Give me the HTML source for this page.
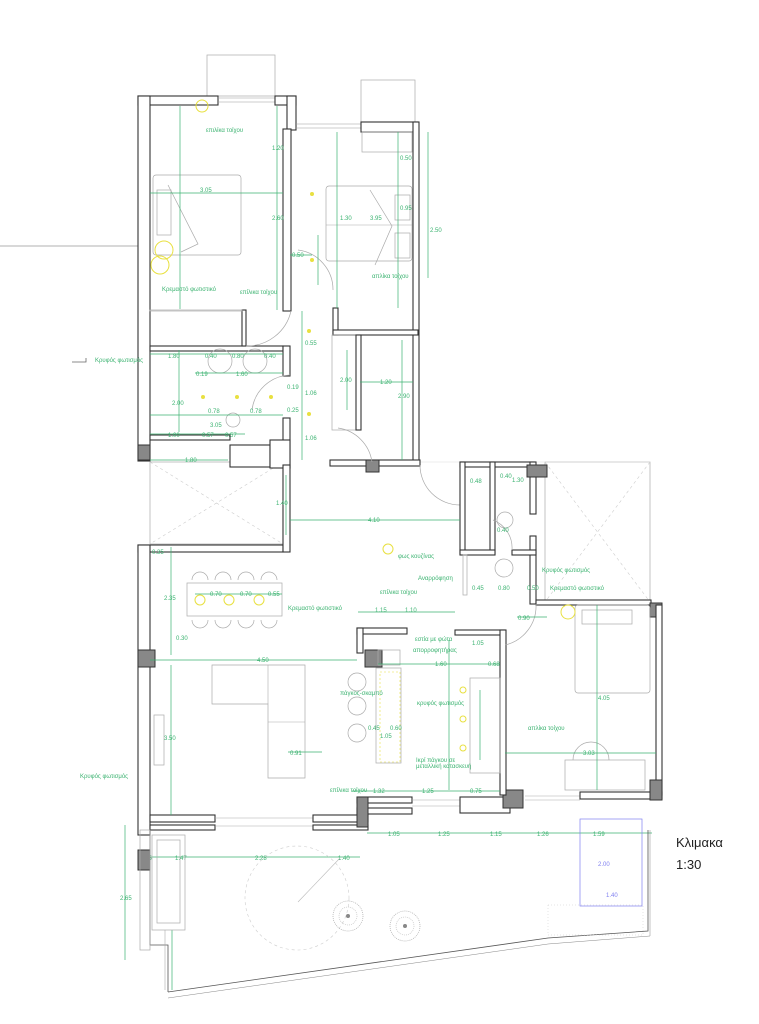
<!DOCTYPE html>
<html><head><meta charset="utf-8"><style>
html,body{margin:0;padding:0;background:#fff;}
svg{display:block;}
text{font-family:"Liberation Sans",sans-serif;}
.w{fill:#fff;stroke:#333;stroke-width:1.1}
.c{fill:#888;stroke:#333;stroke-width:1}
.t{fill:none;stroke:#aaa;stroke-width:0.7}
.g{fill:none;stroke:#3cb371;stroke-width:0.7}
.gt{fill:#3cb371;font-size:6px}
.y{fill:none;stroke:#e8e040;stroke-width:1}
.d{fill:none;stroke:#ccc;stroke-width:0.6;stroke-dasharray:3 3}
</style></head><body>
<svg width="759" height="1024" viewBox="0 0 759 1024" xmlns="http://www.w3.org/2000/svg">
<!-- outside thin lines -->
<line x1="0" y1="246" x2="138" y2="246" stroke="#999" stroke-width="0.8"/>
<polyline points="72,362 86,362 86,358" fill="none" stroke="#666" stroke-width="0.8"/>
<rect x="207" y="55" width="68" height="41" class="t"/>
<rect x="361" y="80" width="54" height="42" class="t"/>
<!-- terraces -->
<rect x="150" y="462" width="133" height="82" class="t"/>
<line x1="150" y1="462" x2="283" y2="544" class="d"/><line x1="283" y1="462" x2="150" y2="544" class="d"/>
<rect x="545" y="462" width="105" height="140" class="t"/>
<line x1="545" y1="462" x2="650" y2="602" class="d"/><line x1="650" y1="462" x2="545" y2="602" class="d"/>
<line x1="420" y1="462" x2="650" y2="462" stroke="#ddd" stroke-width="0.6"/>

<!-- ===== upper walls ===== -->
<rect x="138" y="96" width="80" height="9" class="w"/>
<line x1="218" y1="98" x2="275" y2="98" stroke="#999" stroke-width="0.6"/><line x1="218" y1="102" x2="275" y2="102" stroke="#999" stroke-width="0.6"/>
<rect x="138" y="96" width="12" height="365" class="w"/>
<rect x="275" y="96" width="21" height="9" class="w"/>
<rect x="287" y="96" width="9" height="34" class="w"/>
<rect x="283" y="129" width="8" height="182" class="w"/>
<line x1="296" y1="124" x2="361" y2="124" stroke="#999" stroke-width="0.6"/><line x1="296" y1="128" x2="361" y2="128" stroke="#999" stroke-width="0.6"/>
<rect x="361" y="122" width="57" height="10" class="w"/>
<rect x="413" y="122" width="6" height="343" class="w"/>
<rect x="333" y="308" width="5" height="27" class="w"/>
<rect x="333" y="330" width="85" height="5" class="w"/>
<rect x="332" y="335" width="28" height="95" class="t"/>
<rect x="356" y="335" width="5" height="95" class="w"/>
<rect x="150" y="346" width="133" height="5" class="w"/>
<rect x="242" y="310" width="4" height="36" class="w"/>
<rect x="150" y="310" width="92" height="1" class="t"/>
<rect x="283" y="346" width="7" height="30" class="w"/>
<rect x="283" y="418" width="7" height="50" class="w"/>
<rect x="150" y="435" width="80" height="5" class="w"/>
<rect x="230" y="445" width="40" height="22" class="w"/>
<rect x="270" y="440" width="20" height="28" class="w"/>
<rect x="330" y="460" width="90" height="6" class="w"/>
<rect x="138" y="445" width="12" height="15" class="c"/>
<rect x="366" y="460" width="13" height="12" class="c"/>
<!-- doors upper -->
<path d="M291,311 A45,45 0 0 1 246,346" class="t"/>
<path d="M298,250 A40,40 0 0 1 333,290" class="t"/>
<path d="M290,375 A40,40 0 0 0 252,410" class="t"/>
<path d="M338,428 A40,40 0 0 1 372,462" class="t"/>
<path d="M420,465 A40,40 0 0 0 460,505" class="t"/>
<!-- beds upper -->
<rect x="153" y="175" width="88" height="80" rx="3" class="t"/>
<rect x="157" y="190" width="14" height="45" class="t"/>
<polyline points="168,185 198,244 181,252" class="t"/>
<rect x="326" y="186" width="86" height="75" rx="3" class="t"/>
<line x1="326" y1="225" x2="412" y2="225" stroke="#aaa" stroke-width="0.6"/>
<rect x="395" y="195" width="15" height="25" class="t"/><rect x="395" y="233" width="15" height="25" class="t"/>
<polyline points="370,190 392,226 375,265" class="t"/>
<rect x="362" y="132" width="50" height="20" class="t"/>
<circle cx="164" cy="250" r="9" class="y"/><circle cx="160" cy="265" r="9" class="y"/>
<circle cx="202" cy="106" r="6" class="y"/>
<circle cx="220" cy="361" r="12" class="t"/><circle cx="255" cy="361" r="12" class="t"/>
<circle cx="233" cy="420" r="7" class="t"/>
<!-- upper dims -->
<g class="g">
<line x1="180" y1="106" x2="180" y2="309"/><line x1="150" y1="193" x2="283" y2="193"/>
<line x1="277" y1="106" x2="277" y2="310"/>
<line x1="337" y1="132" x2="337" y2="308"/><line x1="398" y1="132" x2="398" y2="308"/>
<line x1="428" y1="132" x2="428" y2="278"/>
<line x1="318" y1="235" x2="318" y2="285"/><line x1="290" y1="255" x2="312" y2="255"/>
<line x1="302" y1="311" x2="302" y2="372"/><line x1="302" y1="372" x2="302" y2="460"/>
<line x1="150" y1="354" x2="283" y2="354"/><line x1="195" y1="373" x2="283" y2="373"/>
<line x1="179" y1="350" x2="179" y2="432"/><line x1="150" y1="415" x2="283" y2="415"/>
<line x1="150" y1="434" x2="245" y2="434"/><line x1="150" y1="460" x2="228" y2="460"/>
<line x1="347" y1="350" x2="347" y2="410"/><line x1="360" y1="382" x2="413" y2="382"/>
<line x1="402" y1="340" x2="402" y2="460"/>
</g>
<g class="gt">
<text x="200" y="193" dy="-1">3.05</text><text x="206" y="132">επιλίκα τοίχου</text>
<text x="272" y="150">1.20</text><text x="272" y="220">2.60</text>
<text x="340" y="220">1.30</text><text x="370" y="220">3.95</text><text x="400" y="160">0.50</text><text x="400" y="210">0.95</text><text x="430" y="232">2.50</text>
<text x="292" y="257">0.50</text><text x="305" y="345">0.55</text>
<text x="162" y="291">Κρεμαστό φωτιστικό</text><text x="240" y="294">επίλικα τοίχου</text><text x="372" y="278">απλίκα τοίχου</text>
<text x="168" y="358">1.80</text><text x="205" y="358">0.40</text><text x="232" y="358">0.80</text><text x="264" y="358">0.40</text>
<text x="236" y="376">1.60</text><text x="196" y="376">0.19</text><text x="287" y="389">0.19</text><text x="287" y="412">0.25</text>
<text x="172" y="405">2.00</text><text x="208" y="413">0.78</text><text x="250" y="413">0.78</text><text x="210" y="427">3.05</text>
<text x="168" y="437">1.00</text><text x="202" y="437">0.57</text><text x="225" y="437">0.57</text>
<text x="185" y="462">1.80</text><text x="380" y="384">1.20</text><text x="340" y="382">2.00</text><text x="398" y="398">2.90</text>
<text x="305" y="395">1.06</text><text x="305" y="440">1.06</text>
<text x="95" y="362">Κρυφός φωτισμός</text>
</g>
<g fill="#e8e040"><circle cx="312" cy="194" r="2"/><circle cx="312" cy="260" r="2"/><circle cx="309" cy="331" r="2"/><circle cx="309" cy="414" r="2"/><circle cx="203" cy="397" r="2"/><circle cx="237" cy="397" r="2"/><circle cx="271" cy="397" r="2"/></g>

<!-- ===== middle / living ===== -->
<rect x="138" y="545" width="145" height="7" class="w"/>
<rect x="283" y="465" width="7" height="87" class="w"/>
<rect x="138" y="545" width="12" height="290" class="w"/>
<rect x="138" y="650" width="17" height="17" class="c"/>
<rect x="150" y="815" width="65" height="7" class="w"/><rect x="150" y="825" width="65" height="5" class="w"/>
<line x1="215" y1="818" x2="315" y2="818" stroke="#aaa" stroke-width="0.6"/><line x1="215" y1="826" x2="315" y2="826" stroke="#aaa" stroke-width="0.6"/>
<rect x="313" y="815" width="55" height="7" class="w"/><rect x="313" y="825" width="55" height="5" class="w"/>
<rect x="357" y="628" width="50" height="6" class="w"/><rect x="357" y="628" width="6" height="25" class="w"/>
<rect x="365" y="650" width="17" height="17" class="c"/>
<rect x="357" y="797" width="55" height="6" class="w"/><rect x="357" y="808" width="55" height="6" class="w"/>
<rect x="357" y="797" width="11" height="30" class="c"/>
<line x1="412" y1="800" x2="460" y2="800" stroke="#aaa" stroke-width="0.6"/><line x1="412" y1="806" x2="460" y2="806" stroke="#aaa" stroke-width="0.6"/>
<rect x="460" y="797" width="50" height="16" class="w"/>
<rect x="503" y="790" width="20" height="18" class="c"/>
<line x1="525" y1="796" x2="580" y2="796" stroke="#aaa" stroke-width="0.6"/><line x1="525" y1="800" x2="580" y2="800" stroke="#aaa" stroke-width="0.6"/>
<rect x="580" y="792" width="82" height="7" class="w"/>
<!-- right wet block -->
<rect x="460" y="462" width="75" height="5" class="w"/>
<rect x="460" y="462" width="5" height="92" class="w"/>
<rect x="490" y="462" width="5" height="92" class="w"/>
<rect x="530" y="462" width="6" height="52" class="w"/>
<rect x="530" y="536" width="6" height="68" class="w"/>
<rect x="460" y="550" width="35" height="5" class="w"/>
<rect x="512" y="550" width="24" height="5" class="w"/>
<rect x="527" y="465" width="20" height="12" class="c"/>
<rect x="463" y="555" width="4" height="40" class="t"/>
<rect x="455" y="630" width="50" height="5" class="w"/>
<rect x="500" y="630" width="6" height="165" class="w"/>
<rect x="536" y="600" width="115" height="5" class="w"/>
<rect x="650" y="603" width="12" height="14" class="c"/>
<rect x="656" y="605" width="6" height="190" class="w"/>
<rect x="650" y="780" width="12" height="20" class="c"/>
<path d="M536,604 A40,40 0 0 1 505,645" class="t"/>
<path d="M493,520 A30,30 0 0 1 512,550" class="t"/>
<circle cx="505" cy="520" r="8" class="t"/><circle cx="504" cy="568" r="9" class="t"/>
<!-- furniture -->
<rect x="187" y="583" width="95" height="33" class="t"/>
<g class="t"><path d="M192,580 a8,8 0 0 1 16,0"/><path d="M215,580 a8,8 0 0 1 16,0"/><path d="M238,580 a8,8 0 0 1 16,0"/><path d="M261,580 a8,8 0 0 1 16,0"/>
<path d="M192,620 a8,8 0 0 0 16,0"/><path d="M215,620 a8,8 0 0 0 16,0"/><path d="M238,620 a8,8 0 0 0 16,0"/><path d="M261,620 a8,8 0 0 0 16,0"/></g>
<path d="M212,665 H305 V778 H268 V704 H212 Z" class="t"/>
<line x1="268" y1="665" x2="268" y2="704" stroke="#aaa" stroke-width="0.6"/>
<line x1="268" y1="722" x2="305" y2="722" stroke="#aaa" stroke-width="0.6"/>
<rect x="154" y="715" width="10" height="50" class="t"/>
<rect x="376" y="668" width="25" height="95" class="t"/>
<rect x="380" y="672" width="20" height="90" fill="none" stroke="#e8e040" stroke-width="0.6" stroke-dasharray="2 2"/>
<rect x="378" y="650" width="22" height="15" class="t"/>
<circle cx="357" cy="682" r="9" class="t"/><circle cx="357" cy="706" r="9" class="t"/><circle cx="357" cy="733" r="9" class="t"/>
<rect x="470" y="678" width="30" height="95" class="t"/>
<rect x="575" y="605" width="75" height="88" rx="3" class="t"/>
<rect x="582" y="610" width="50" height="14" class="t"/>
<rect x="565" y="760" width="80" height="30" class="t"/>
<path d="M573,760 a18,18 0 0 1 36,0" class="t"/>
<!-- yellow lights -->
<g class="y"><circle cx="388" cy="549" r="5"/><circle cx="200" cy="600" r="5"/><circle cx="229" cy="600" r="5"/><circle cx="259" cy="600" r="5"/>
<circle cx="568" cy="612" r="7"/><circle cx="463" cy="690" r="3"/><circle cx="463" cy="719" r="3"/><circle cx="463" cy="748" r="3"/></g>
<!-- living dims -->
<g class="g">
<line x1="290" y1="520" x2="460" y2="520"/><line x1="286" y1="475" x2="286" y2="535"/>
<line x1="150" y1="660" x2="357" y2="660"/><line x1="171" y1="547" x2="171" y2="655"/><line x1="171" y1="665" x2="171" y2="815"/>
<line x1="195" y1="594" x2="282" y2="594"/>
<line x1="358" y1="612" x2="455" y2="612"/><line x1="378" y1="664" x2="500" y2="664"/>
<line x1="288" y1="752" x2="322" y2="752"/>
<line x1="352" y1="791" x2="500" y2="791"/><line x1="367" y1="833" x2="652" y2="833"/>
<line x1="150" y1="857" x2="360" y2="857"/>
<line x1="480" y1="690" x2="480" y2="760"/><line x1="597" y1="605" x2="597" y2="790"/>
<line x1="505" y1="753" x2="656" y2="753"/><line x1="517" y1="617" x2="547" y2="617"/>
<line x1="449" y1="640" x2="449" y2="790"/>
<line x1="125" y1="825" x2="125" y2="960"/><line x1="172" y1="930" x2="172" y2="990"/>
</g>
<g class="gt">
<text x="368" y="522">4.10</text><text x="276" y="505">1.40</text><text x="152" y="554">0.35</text>
<text x="257" y="662">4.50</text><text x="164" y="600">2.35</text><text x="164" y="740">3.50</text><text x="176" y="640">0.30</text>
<text x="210" y="596">0.70</text><text x="240" y="596">0.70</text><text x="268" y="596">0.55</text>
<text x="288" y="610">Κρεμαστό φωτιστικό</text><text x="398" y="558">φως κουζίνας</text>
<text x="375" y="612">1.15</text><text x="405" y="612">1.10</text><text x="435" y="666">1.60</text>
<text x="380" y="594">επίλικα τοίχου</text><text x="418" y="580">Αναρρόφηση</text>
<text x="415" y="641">εστία με φώτα</text><text x="413" y="652">απορροφητήρας</text>
<text x="340" y="695">πάγκος-σκαμπό</text><text x="417" y="705">κρυφός φωτισμός</text>
<text x="368" y="730">0.45</text><text x="390" y="730">0.60</text><text x="380" y="738">1.05</text>
<text x="416" y="762">Ικρί πάγκου σε</text><text x="416" y="768">μεταλλική κατασκευή</text>
<text x="290" y="755">0.91</text><text x="330" y="792">επίλικα τοίχου</text><text x="80" y="778">Κρυφός φωτισμός</text>
<text x="373" y="793">1.32</text><text x="422" y="793">1.25</text><text x="470" y="793">0.75</text>
<text x="388" y="836">1.05</text><text x="438" y="836">1.25</text><text x="490" y="836">1.15</text><text x="537" y="836">1.26</text><text x="593" y="836">1.59</text>
<text x="175" y="860">1.47</text><text x="255" y="860">2.28</text><text x="338" y="860">1.40</text>
<text x="583" y="755">3.03</text><text x="598" y="700">4.05</text><text x="528" y="730">απλίκα τοίχου</text>
<text x="470" y="483">0.48</text><text x="500" y="478">0.40</text><text x="512" y="482">1.30</text>
<text x="497" y="532">0.40</text><text x="472" y="590">0.45</text><text x="498" y="590">0.80</text><text x="527" y="590">0.50</text>
<text x="542" y="572">Κρυφός φωτισμός</text><text x="550" y="590">Κρεμαστό φωτιστικό</text>
<text x="518" y="620">0.90</text><text x="472" y="645">1.05</text><text x="488" y="666">0.68</text>
<text x="120" y="900">2.65</text><text x="140" y="860">0.35</text>
</g>
<!-- terrace -->
<rect x="138" y="850" width="12" height="20" class="c"/>
<path d="M150,830 V945 H168 V992" fill="none" stroke="#555" stroke-width="0.8"/>
<rect x="140" y="830" width="10" height="120" class="t"/>
<rect x="152" y="835" width="33" height="95" class="t"/>
<rect x="157" y="840" width="23" height="83" class="t"/>
<path d="M165,930 V990" stroke="#aaa" stroke-width="0.6"/>
<path d="M168,992 L548,938 L648,931 V830" fill="none" stroke="#555" stroke-width="0.8"/>
<path d="M168,998 L548,944 L650,936 V830" fill="none" stroke="#888" stroke-width="0.5"/>
<rect x="580" y="819" width="62" height="87" fill="none" stroke="#8080f0" stroke-width="0.7"/>
<text x="606" y="897" fill="#8080f0" font-size="6">1.40</text><text x="598" y="866" fill="#8080f0" font-size="6">2.00</text>
<rect x="548" y="905" width="95" height="30" fill="none" stroke="#ccc" stroke-width="0.5" stroke-dasharray="1 2"/>
<circle cx="297" cy="898" r="52" class="d"/>
<line x1="298" y1="902" x2="340" y2="858" stroke="#bbb" stroke-width="0.6"/>
<circle cx="348" cy="916" r="15" fill="none" stroke="#aaa" stroke-width="0.7" stroke-dasharray="1 1"/>
<circle cx="348" cy="916" r="9" fill="none" stroke="#bbb" stroke-width="0.6" stroke-dasharray="1 1"/>
<circle cx="348" cy="916" r="2" fill="#888"/>
<circle cx="405" cy="926" r="15" fill="none" stroke="#aaa" stroke-width="0.7" stroke-dasharray="1 1"/>
<circle cx="405" cy="926" r="9" fill="none" stroke="#bbb" stroke-width="0.6" stroke-dasharray="1 1"/>
<circle cx="405" cy="926" r="2" fill="#888"/>
<!-- scale -->
<text x="676" y="847" font-size="13" fill="#222" font-family="Liberation Sans, DejaVu Sans, sans-serif">Κλιμακα</text>
<text x="676" y="869" font-size="13" fill="#222">1:30</text>
</svg>
</body></html>
